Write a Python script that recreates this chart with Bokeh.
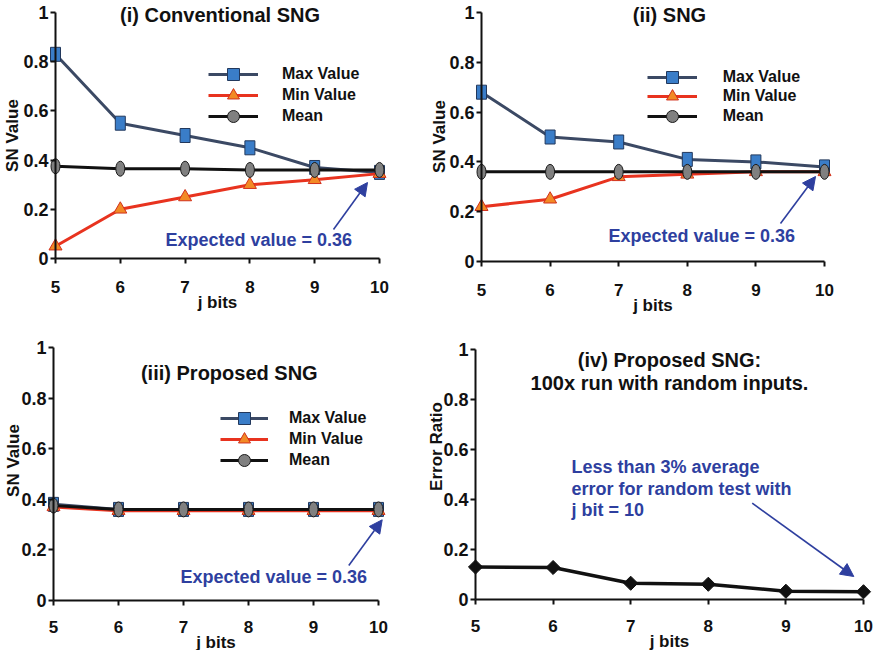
import math
from bokeh.plotting import figure
from bokeh.layouts import row, column
from bokeh.models import (Range1d, FixedTicker, Label, Arrow, NormalHead,
                          Legend, LegendItem)
from bokeh.embed import file_html
from bokeh.resources import INLINE

# ---------------- data ----------------
j_bits = [5, 6, 7, 8, 9, 10]
x_tick_labels = ["5", "6", "7", "8", "9", "10"]
y_ticks = [0, 0.2, 0.4, 0.6, 0.8, 1]
y_tick_labels = ["0", "0.2", "0.4", "0.6", "0.8", "1"]

conv_max = [0.83, 0.55, 0.50, 0.45, 0.37, 0.35]
conv_min = [0.05, 0.20, 0.25, 0.30, 0.32, 0.345]
conv_mean = [0.375, 0.365, 0.365, 0.36, 0.36, 0.36]

sng_max = [0.68, 0.50, 0.48, 0.41, 0.40, 0.38]
sng_min = [0.22, 0.25, 0.34, 0.35, 0.36, 0.36]
sng_mean = [0.36, 0.36, 0.36, 0.36, 0.36, 0.36]

prop_max = [0.38, 0.36, 0.36, 0.36, 0.36, 0.36]
prop_min = [0.37, 0.355, 0.355, 0.355, 0.355, 0.355]
prop_mean = [0.375, 0.36, 0.36, 0.36, 0.36, 0.36]

err_ratio = [0.13, 0.128, 0.065, 0.061, 0.033, 0.031]

series_names = ["Max Value", "Min Value", "Mean"]

# ---------------- style ----------------
FONT = "Liberation Sans"
TXT_BLUE = "#2E3F9F"
MAX_LINE = "#3B4964"
MAX_FILL = "#3A7DC8"
MAX_EDGE = "#22385C"
MIN_LINE = "#E8331F"
MIN_FILL = "#F28A25"
MIN_EDGE = "#D2301C"
MEAN_LINE = "#111111"
MEAN_FILL = "#808080"
MEAN_EDGE = "#1A1A1A"


def make_panel(width, height, ax, tick_standoff):
    """ax = pixel positions of the axes (left, right, top, bottom) inside the figure.
    The frame fills the whole figure; axes are drawn at fixed data locations."""
    ax_left, ax_right, ax_top, ax_bottom = ax
    ppu = (ax_right - ax_left) / (j_bits[-1] - j_bits[0])
    ppv = (ax_bottom - ax_top) / (y_ticks[-1] - y_ticks[0])
    x0 = j_bits[0] - ax_left / ppu
    x1 = j_bits[-1] + (width - ax_right) / ppu
    y0 = y_ticks[0] - (height - ax_bottom) / ppv
    y1 = y_ticks[-1] + ax_top / ppv
    p = figure(width=width, height=height,
               x_range=Range1d(x0, x1), y_range=Range1d(y0, y1),
               output_backend="svg", toolbar_location=None,
               min_border_left=0, min_border_right=0,
               min_border_top=0, min_border_bottom=0)
    p.outline_line_color = None
    p.grid.visible = False
    p.background_fill_color = "white"
    p.border_fill_color = "white"

    xa = p.xaxis[0]
    xa.ticker = FixedTicker(ticks=j_bits)
    xa.major_label_overrides = dict(zip(j_bits, x_tick_labels))
    xa.bounds = (j_bits[0], j_bits[-1])
    xa.fixed_location = y_ticks[0]
    xa.axis_label = "j bits"
    xa.axis_label_text_font = FONT
    xa.axis_label_text_font_style = "bold"
    xa.axis_label_text_font_size = "17px"
    xa.axis_label_standoff = -3
    xa.major_label_text_font = FONT
    xa.major_label_text_font_style = "bold"
    xa.major_label_text_font_size = "17px"
    xa.major_label_standoff = tick_standoff

    ya = p.yaxis[0]
    ya.ticker = FixedTicker(ticks=y_ticks)
    ya.major_label_overrides = dict(zip(y_ticks, y_tick_labels))
    ya.bounds = (y_ticks[0], y_ticks[-1])
    ya.fixed_location = j_bits[0]
    ya.major_label_text_font = FONT
    ya.major_label_text_font_style = "bold"
    ya.major_label_text_font_size = "18px"
    ya.major_label_standoff = 2

    for a in (xa, ya):
        a.axis_line_width = 2
        a.axis_line_color = "#111111"
        a.major_tick_line_width = 2
        a.major_tick_line_color = "#111111"
        a.major_tick_in = 0
        a.major_tick_out = 5
        a.minor_tick_line_color = None
        a.major_label_text_color = "#111111"
        a.axis_label_text_color = "#111111"

    def px(xp, yp):
        return (j_bits[0] + (xp - ax_left) / ppu,
                (ax_bottom - yp) / ppv)
    return p, px


def add_text(p, px, xp, yp, txt, size, color="#111111", align="left", angle=0.0):
    x, y = px(xp, yp)
    p.add_layout(Label(x=x, y=y, text=txt, text_font=FONT, text_font_style="bold",
                       text_font_size=size, text_color=color, text_align=align,
                       text_baseline="middle", angle=angle))


def add_arrow(p, px, start, end):
    xs, ys = px(*start)
    xe, ye = px(*end)
    p.add_layout(Arrow(end=NormalHead(size=13, fill_color=TXT_BLUE, line_color=TXT_BLUE,
                                      line_width=1),
                       x_start=xs, y_start=ys, x_end=xe, y_end=ye,
                       line_color=TXT_BLUE, line_width=1.6))


def add_series(p, maxv, minv, meanv, legend_x, rows, height, glyph_w, standoff):
    r_max_line = p.line(j_bits, maxv, line_color=MAX_LINE, line_width=3)
    p.rect(j_bits, maxv, width=10, height=14, width_units="screen", height_units="screen",
           fill_color=MAX_FILL, line_color=MAX_EDGE, line_width=1)
    r_min_line = p.line(j_bits, minv, line_color=MIN_LINE, line_width=3)
    p.scatter(j_bits, minv, marker="triangle", size=13,
              fill_color=MIN_FILL, line_color=MIN_EDGE, line_width=1)
    r_mean_line = p.line(j_bits, meanv, line_color=MEAN_LINE, line_width=3)
    p.ellipse(j_bits, meanv, width=9, height=15, width_units="screen", height_units="screen",
              fill_color=MEAN_FILL, line_color=MEAN_EDGE, line_width=1)

    # marker renderers used only for the legend samples (hidden in the plot)
    l_max = p.scatter(j_bits, maxv, marker="square", size=12,
                      fill_color=MAX_FILL, line_color=MAX_EDGE, visible=False)
    l_min = p.scatter(j_bits, minv, marker="triangle", size=13,
                      fill_color=MIN_FILL, line_color=MIN_EDGE, visible=False)
    l_mean = p.scatter(j_bits, meanv, marker="circle", size=12,
                       fill_color=MEAN_FILL, line_color=MEAN_EDGE, visible=False)
    rends = [[r_max_line, l_max], [r_min_line, l_min], [r_mean_line, l_mean]]
    gh = 30
    for name, rr, yc in zip(series_names, rends, rows):
        lg = Legend(items=[LegendItem(label=name, renderers=rr)],
                    location=(legend_x, height - yc - gh / 2),
                    glyph_width=glyph_w, glyph_height=gh, label_height=gh,
                    label_standoff=standoff, padding=0, margin=0, spacing=0,
                    border_line_color=None, background_fill_alpha=0,
                    label_text_font=FONT, label_text_font_style="bold",
                    label_text_font_size="16px", label_text_color="#111111")
        p.add_layout(lg)


# ---------------- panel (i) ----------------
p1, px1 = make_panel(425, 320, (55, 379, 12, 258), 17)
add_series(p1, conv_max, conv_min, conv_mean, 208, [74, 95, 116], 320, 50, 24)
add_text(p1, px1, 219.5, 14, "(i) Conventional SNG", "20px", align="center")
add_text(p1, px1, 165, 239.5, "Expected value = 0.36", "18px", color=TXT_BLUE)
add_arrow(p1, px1, (333, 229), (367, 182))
add_text(p1, px1, 12, 135, "SN Value", "17px", align="center", angle=math.pi / 2)

# ---------------- panel (ii) ----------------
p2, px2 = make_panel(452, 320, (56, 399, 12, 261), 17)
add_series(p2, sng_max, sng_min, sng_mean, 221.7, [76.7, 96, 116], 320, 50, 26)
add_text(p2, px2, 244, 14, "(ii) SNG", "20px", align="center")
add_text(p2, px2, 183, 235, "Expected value = 0.36", "18px", color=TXT_BLUE)
add_arrow(p2, px2, (355, 223), (390, 176))
add_text(p2, px2, 14, 136, "SN Value", "17px", align="center", angle=math.pi / 2)

# ---------------- panel (iii) ----------------
p3, px3 = make_panel(420, 330, (53, 378, 27, 280), 15)
add_series(p3, prop_max, prop_min, prop_mean, 220, [98.3, 119, 140], 330, 48, 21)
add_text(p3, px3, 228.8, 52, "(iii) Proposed SNG", "20px", align="center")
add_text(p3, px3, 180, 256.7, "Expected value = 0.36", "18px", color=TXT_BLUE)
add_arrow(p3, px3, (348.3, 245), (381.7, 199.3))
add_text(p3, px3, 12.5, 140, "SN Value", "17px", align="center", angle=math.pi / 2)

# ---------------- panel (iv) ----------------
p4, px4 = make_panel(457, 330, (55, 443, 29, 279), 15)
p4.line(j_bits, err_ratio, line_color="#111111", line_width=3.5)
p4.scatter(j_bits, err_ratio, marker="square", angle=math.pi / 4, size=10,
           fill_color="#111111", line_color="#111111")
add_text(p4, px4, 249, 39.5, "(iv) Proposed SNG:", "20px", align="center")
add_text(p4, px4, 249, 62.5, "100x run with random inputs.", "20px", align="center")
add_text(p4, px4, 151, 146.7, "Less than 3% average", "18px", color=TXT_BLUE)
add_text(p4, px4, 151, 168.3, "error for random test with", "18px", color=TXT_BLUE)
add_text(p4, px4, 151, 189.3, "j bit = 10", "18px", color=TXT_BLUE)
add_arrow(p4, px4, (331.7, 182.7), (433.3, 256))
add_text(p4, px4, 16, 126, "Error Ratio", "17px", align="center", angle=math.pi / 2)

layout = column(row(p1, p2), row(p3, p4))
open("out.html", "w").write(file_html(layout, INLINE))
